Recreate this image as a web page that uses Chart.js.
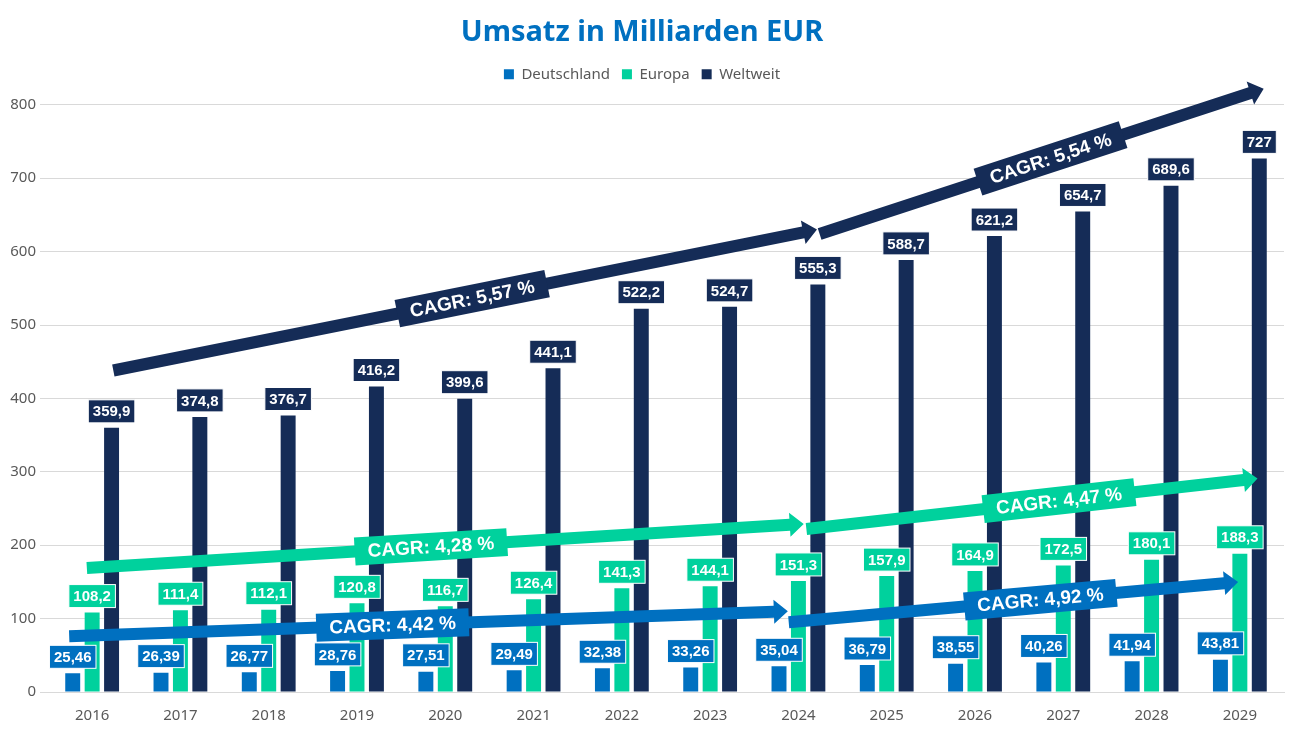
<!DOCTYPE html>
<html>
<head>
<meta charset="utf-8">
<script src="https://cdn.jsdelivr.net/npm/chart.js@4.4.1/dist/chart.umd.min.js"></script>
<style>
  html, body { margin: 0; padding: 0; background: #fff; }
  #wrap { width: 1300px; height: 732px; }
</style>
</head>
<body>
<div id="wrap"><canvas id="umsatz" width="1300" height="732"></canvas></div>
<script>
// Werte aus der Grafik (Mrd. EUR)
const years = ['2016', '2017', '2018', '2019', '2020', '2021', '2022', '2023', '2024', '2025', '2026', '2027', '2028', '2029'];
const deutschland = [25.46, 26.39, 26.77, 28.76, 27.51, 29.49, 32.38, 33.26, 35.04, 36.79, 38.55, 40.26, 41.94, 43.81];
const europa = [108.2, 111.4, 112.1, 120.8, 116.7, 126.4, 141.3, 144.1, 151.3, 157.9, 164.9, 172.5, 180.1, 188.3];
const weltweit = [359.9, 374.8, 376.7, 416.2, 399.6, 441.1, 522.2, 524.7, 555.3, 588.7, 621.2, 654.7, 689.6, 727];

// CAGR-Pfeile: Start/Ende in (Kategorie-Index, Wert)
const cagrText = ['CAGR: 5,57 %', 'CAGR: 5,54 %', 'CAGR: 4,28 %', 'CAGR: 4,47 %', 'CAGR: 4,42 %', 'CAGR: 4,92 %'];
const cagrFrom = [[0.24, 438], [8.24, 624], [-0.06, 169], [8.09, 222], [-0.26, 76], [7.89, 95]];
const cagrTo = [[8.21, 630], [13.27, 822], [8.06, 229], [13.2, 291], [7.88, 110], [12.98, 150]];
const cagrSeries = [2, 2, 1, 1, 0, 0];
const cagrLabelAt = [0.51, 0.52, 0.48, 0.56, 0.45, 0.56];

const colors = ['#0070C0', '#00D19D', '#152C57'];

const fmt = v => String(v).replace('.', ',');

// etwas Luft unter der Legende
const legendGap = {
    id: 'legendGap',
    beforeInit(chart) {
        const fit = chart.legend.fit;
        chart.legend.fit = function () {
            fit.bind(chart.legend)();
            this.height += 13;
        };
    }
};

// Wertelabels als farbige Kästchen über den Balken
const valueBoxes = {
    id: 'valueBoxes',
    afterDatasetsDraw(chart) {
        const ctx = chart.ctx;
        ctx.save();
        ctx.font = 'bold 15px "Liberation Sans", Arial, sans-serif';
        ctx.textAlign = 'center';
        ctx.textBaseline = 'middle';
        chart.data.datasets.forEach((ds, di) => {
            chart.getDatasetMeta(di).data.forEach((bar, i) => {
                const txt = fmt(ds.data[i]);
                const w = ctx.measureText(txt).width + 9;
                const h = 23;
                const bottom = bar.y - 5;
                ctx.fillStyle = ds.backgroundColor;
                ctx.fillRect(bar.x - w / 2, bottom - h, w, h);
                ctx.strokeStyle = '#fff';
                ctx.lineWidth = 1;
                ctx.strokeRect(bar.x - w / 2, bottom - h, w, h);
                ctx.fillStyle = '#fff';
                ctx.fillText(txt, bar.x, bottom - h / 2 + 1);
            });
        });
        ctx.restore();
    }
};

// CAGR-Pfeile mit gedrehter Beschriftung
const cagrArrows = {
    id: 'cagrArrows',
    afterDraw(chart) {
        const ctx = chart.ctx;
        const xs = chart.scales.x, ys = chart.scales.y;
        ctx.save();
        cagrText.forEach((label, k) => {
            const x0 = xs.getPixelForValue(cagrFrom[k][0]);
            const y0 = ys.getPixelForValue(cagrFrom[k][1]);
            const x1 = xs.getPixelForValue(cagrTo[k][0]);
            const y1 = ys.getPixelForValue(cagrTo[k][1]);
            const len = Math.hypot(x1 - x0, y1 - y0);
            const ang = Math.atan2(y1 - y0, x1 - x0);
            const col = colors[cagrSeries[k]];
            const t = 6, head = 14, hw = 12;
            ctx.save();
            ctx.translate(x0, y0);
            ctx.rotate(ang);
            ctx.fillStyle = col;
            ctx.beginPath();
            ctx.moveTo(0, -t);
            ctx.lineTo(len - head, -t);
            ctx.lineTo(len - head, -hw);
            ctx.lineTo(len, 0);
            ctx.lineTo(len - head, hw);
            ctx.lineTo(len - head, t);
            ctx.lineTo(0, t);
            ctx.closePath();
            ctx.fill();
            // Beschriftung
            ctx.font = 'bold 19px "Liberation Sans", Arial, sans-serif';
            const tw = ctx.measureText(label).width + 26;
            const cx = len * cagrLabelAt[k];
            ctx.fillRect(cx - tw / 2, -14, tw, 28);
            ctx.fillStyle = '#fff';
            ctx.textAlign = 'center';
            ctx.textBaseline = 'middle';
            ctx.fillText(label, cx, 1);
            ctx.restore();
        });
        ctx.restore();
    }
};

const chart = new Chart(document.getElementById('umsatz'), {
    type: 'bar',
    data: {
        labels: years,
        datasets: [
            { label: 'Deutschland', data: deutschland, backgroundColor: colors[0] },
            { label: 'Europa', data: europa, backgroundColor: colors[1] },
            { label: 'Weltweit', data: weltweit, backgroundColor: colors[2] }
        ]
    },
    options: {
        responsive: false,
        animation: false,
        datasets: { bar: { categoryPercentage: 0.66, barPercentage: 0.77 } },
        layout: { padding: { left: 0, right: 16, top: 0, bottom: 0 } },
        plugins: {
            title: {
                display: true,
                text: 'Umsatz in Milliarden EUR',
                color: '#0070C0',
                font: { family: '"Noto Sans", sans-serif', size: 29, weight: 'bold' },
                padding: { top: 15, bottom: 5 }
            },
            legend: {
                labels: {
                    boxWidth: 10, boxHeight: 10,
                    color: '#595959',
                    font: { family: '"Noto Sans", sans-serif', size: 15 },
                    padding: 12
                }
            },
            tooltip: { enabled: false }
        },
        scales: {
            x: {
                grid: { display: false },
                border: { color: '#D9D9D9' },
                ticks: { color: '#595959', padding: 7, font: { family: '"Noto Sans", sans-serif', size: 15 } },
                afterFit(s) { s.height = 40; }
            },
            y: {
                min: 0, max: 800,
                grid: { color: '#D9D9D9' },
                border: { display: false },
                ticks: { stepSize: 100, color: '#595959', padding: 4, font: { family: '"Noto Sans", sans-serif', size: 15 } },
                afterFit(s) { s.width = 48; }
            }
        }
    },
    plugins: [legendGap, valueBoxes, cagrArrows]
});
</script>
</body>
</html>
